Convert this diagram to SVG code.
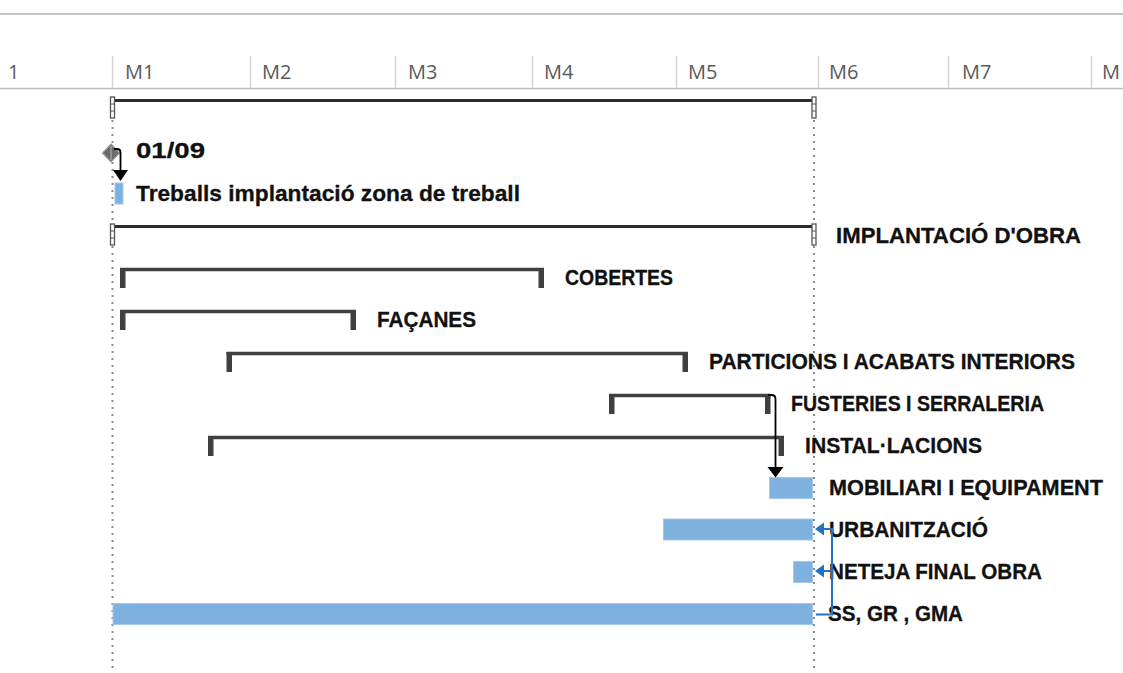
<svg xmlns="http://www.w3.org/2000/svg" width="1123" height="673" viewBox="0 0 1123 673">
<style>
.hdr{font-family:"Open Sans","Liberation Sans",sans-serif;font-size:20px;fill:#5a5a5a}
.lbl{font-family:"Liberation Sans",Arial,sans-serif;font-size:22px;font-weight:bold;fill:#111;stroke:#111;stroke-width:0.3}
.tick{stroke:#d4d4d4;stroke-width:1.5}
.dot{stroke:#8a8a8a;stroke-width:2;stroke-dasharray:2 5;fill:none}
.brk{fill:none;stroke:#404040;stroke-width:3.5}
.cap{fill:#404040}
.sum{stroke:#2b2b2b;stroke-width:3;fill:none}
.scap{fill:#fff;stroke:#555;stroke-width:1.3}
.bar{fill:#7fb1df;stroke:#a3c8ec;stroke-width:1}
.lnk{fill:none;stroke:#000;stroke-width:1.8}
.blk{fill:none;stroke:#2272c3;stroke-width:2}
</style>
<rect width="1123" height="673" fill="#fff"/>
<g id="header">
<line x1="0" y1="14" x2="1123" y2="14" stroke="#c4c4c4" stroke-width="2"/>
<line x1="0" y1="88.5" x2="1123" y2="88.5" stroke="#bdbdbd" stroke-width="1.6"/>
<line class="tick" x1="112.5" y1="56" x2="112.5" y2="88"/>
<line class="tick" x1="250.5" y1="56" x2="250.5" y2="88"/>
<line class="tick" x1="395.5" y1="56" x2="395.5" y2="88"/>
<line class="tick" x1="532.5" y1="56" x2="532.5" y2="88"/>
<line class="tick" x1="676.5" y1="56" x2="676.5" y2="88"/>
<line class="tick" x1="818.5" y1="56" x2="818.5" y2="88"/>
<line class="tick" x1="948.5" y1="56" x2="948.5" y2="88"/>
<line class="tick" x1="1091.5" y1="56" x2="1091.5" y2="88"/>
<text class="hdr" x="8" y="79">1</text>
<text class="hdr" x="125" y="79">M1</text>
<text class="hdr" x="262" y="79">M2</text>
<text class="hdr" x="408" y="79">M3</text>
<text class="hdr" x="544" y="79">M4</text>
<text class="hdr" x="688" y="79">M5</text>
<text class="hdr" x="829" y="79">M6</text>
<text class="hdr" x="962" y="79">M7</text>
<text class="hdr" x="1102" y="79">M</text>
</g>
<g id="gridlines">
<line class="dot" x1="112.5" y1="120" x2="112.5" y2="673"/>
<line class="dot" x1="814" y1="120" x2="814" y2="673"/>
</g>
<g id="project-summary">
<line class="sum" x1="113" y1="100.5" x2="813" y2="100.5"/>
<rect class="scap" x="110.5" y="97" width="4" height="21"/>
<line x1="110.5" y1="104" x2="114.5" y2="104" stroke="#555" stroke-width="1"/>
<line x1="110.5" y1="111" x2="114.5" y2="111" stroke="#555" stroke-width="1"/>
<rect class="scap" x="812" y="97" width="4" height="21"/>
<line x1="812" y1="104" x2="816" y2="104" stroke="#555" stroke-width="1"/>
<line x1="812" y1="111" x2="816" y2="111" stroke="#555" stroke-width="1"/>
</g>
<g id="milestone-0109">
<polygon points="111,144 119.5,153 111,162 102.5,153" fill="#6b6b6b" stroke="#9a9a9a" stroke-width="1.2"/>
<line x1="111" y1="146" x2="111" y2="160" stroke="#bbb" stroke-width="1"/>
<text class="lbl" x="136" y="157.5" textLength="69" lengthAdjust="spacingAndGlyphs">01/09</text>
</g>
<g id="treballs-implantacio">
<rect class="bar" x="115" y="183" width="8" height="21"/>
<text class="lbl" x="136" y="200.5" textLength="384" lengthAdjust="spacingAndGlyphs">Treballs implantació zona de treball</text>
</g>
<g id="implantacio-obra">
<line class="sum" x1="113" y1="226.5" x2="813" y2="226.5"/>
<rect class="scap" x="110.5" y="224" width="4" height="21"/>
<line x1="110.5" y1="231" x2="114.5" y2="231" stroke="#555" stroke-width="1"/>
<line x1="110.5" y1="238" x2="114.5" y2="238" stroke="#555" stroke-width="1"/>
<rect class="scap" x="812" y="224" width="4" height="21"/>
<line x1="812" y1="231" x2="816" y2="231" stroke="#555" stroke-width="1"/>
<line x1="812" y1="238" x2="816" y2="238" stroke="#555" stroke-width="1"/>
<text class="lbl" x="836" y="242.5" textLength="245" lengthAdjust="spacingAndGlyphs">IMPLANTACIÓ D'OBRA</text>
</g>
<g id="cobertes">
<line class="brk" x1="120" y1="269.5" x2="544" y2="269.5"/>
<rect class="cap" x="120" y="268" width="5.5" height="20"/>
<rect class="cap" x="538.5" y="268" width="5.5" height="20"/>
<text class="lbl" x="565" y="284.5" textLength="108" lengthAdjust="spacingAndGlyphs">COBERTES</text>
</g>
<g id="facanes">
<line class="brk" x1="120" y1="311.5" x2="356" y2="311.5"/>
<rect class="cap" x="120" y="310" width="5.5" height="20"/>
<rect class="cap" x="350.5" y="310" width="5.5" height="20"/>
<text class="lbl" x="377" y="326.5" textLength="99" lengthAdjust="spacingAndGlyphs">FAÇANES</text>
</g>
<g id="particions">
<line class="brk" x1="226.5" y1="353.5" x2="688" y2="353.5"/>
<rect class="cap" x="226.5" y="352" width="5.5" height="20"/>
<rect class="cap" x="682.5" y="352" width="5.5" height="20"/>
<text class="lbl" x="709" y="368.5" textLength="366" lengthAdjust="spacingAndGlyphs">PARTICIONS I ACABATS INTERIORS</text>
</g>
<g id="fusteries">
<line class="brk" x1="609" y1="395.5" x2="770.5" y2="395.5"/>
<rect class="cap" x="609" y="394" width="5.5" height="20"/>
<rect class="cap" x="765" y="394" width="5.5" height="20"/>
<text class="lbl" x="791" y="410.5" textLength="253" lengthAdjust="spacingAndGlyphs">FUSTERIES I SERRALERIA</text>
</g>
<g id="installacions">
<line class="brk" x1="208" y1="437.5" x2="784" y2="437.5"/>
<rect class="cap" x="208" y="436" width="5.5" height="20"/>
<rect class="cap" x="778.5" y="436" width="5.5" height="20"/>
<text class="lbl" x="805" y="452.5" textLength="177" lengthAdjust="spacingAndGlyphs">INSTAL·LACIONS</text>
</g>
<g id="mobiliari">
<rect class="bar" x="769.5" y="477.5" width="43" height="21"/>
<text class="lbl" x="829" y="494.5" textLength="274" lengthAdjust="spacingAndGlyphs">MOBILIARI I EQUIPAMENT</text>
</g>
<g id="urbanitzacio">
<rect class="bar" x="663.5" y="519" width="149" height="21"/>
<text class="lbl" x="829" y="536.5" textLength="159" lengthAdjust="spacingAndGlyphs">URBANITZACIÓ</text>
</g>
<g id="neteja">
<rect class="bar" x="793.5" y="561.5" width="19" height="21"/>
<text class="lbl" x="829" y="578.5" textLength="213" lengthAdjust="spacingAndGlyphs">NETEJA FINAL OBRA</text>
</g>
<g id="ss-gr-gma">
<rect class="bar" x="113" y="603.5" width="699.5" height="21"/>
<text class="lbl" x="828" y="620.5" textLength="135" lengthAdjust="spacingAndGlyphs">SS, GR , GMA</text>
</g>
<g id="connectors">
<path class="lnk" d="M114 149 H117 Q120.5 149 120.5 152.5 V171"/>
<polygon points="113,170 128,170 120.5,181" fill="#000"/>
<path class="lnk" d="M768 395 H771.5 Q775.5 395 775.5 399 V468"/>
<polygon points="767.5,467 783.5,467 775.5,477.5" fill="#000"/>
<path class="blk" d="M816 614.5 H832 V529 H822"/>
<path class="blk" d="M832 571 H822"/>
<polygon points="815,529 824,522.5 824,535.5" fill="#2272c3"/>
<polygon points="815,571 824,564.5 824,577.5" fill="#2272c3"/>
</g>
</svg>
